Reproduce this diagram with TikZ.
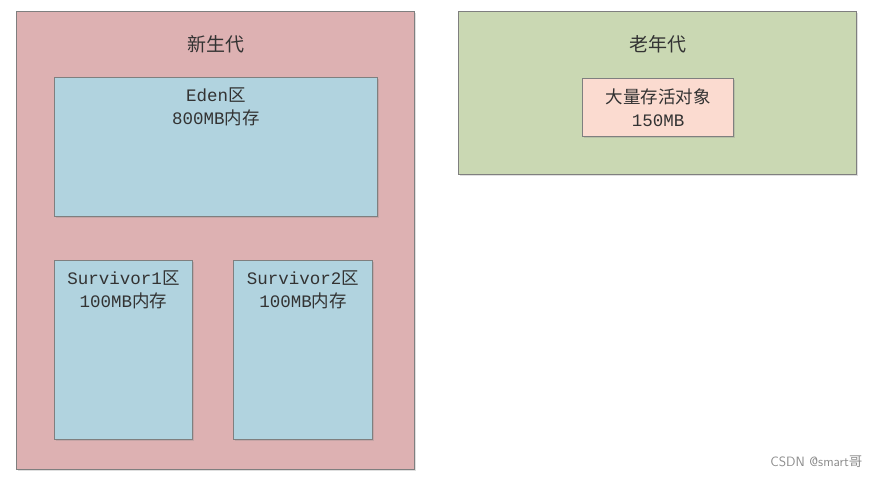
\documentclass[tikz,border=0pt]{standalone}
\usepackage{fontspec}
\setmonofont{Liberation Mono}
\newfontfamily\cjk{Noto Sans CJK SC}
\usepackage{tikz}
\usetikzlibrary{positioning, shadows}

\definecolor{younggen}{HTML}{DDB1B2}
\definecolor{edenblue}{HTML}{B1D3DF}
\definecolor{oldgen}{HTML}{CAD8B3}
\definecolor{objpink}{HTML}{FBDBD0}
\definecolor{edgegray}{HTML}{7F7F7F}

\newcommand{\zh}[1]{{\cjk #1}}

\begin{document}
\begin{tikzpicture}[
    x=1pt, y=-1pt,
    box/.style={rectangle, draw=edgegray, line width=1pt, inner sep=0pt, anchor=north west,
                drop shadow={opacity=0.25, shadow xshift=1.5pt, shadow yshift=-1.5pt}},
    region/.style={box, fill=younggen},
    space/.style={box, fill=edenblue},
    oldregion/.style={box, fill=oldgen},
    object/.style={box, fill=objpink},
    title/.style={font=\fontsize{19}{22}\selectfont\cjk, text=black!80},
    label/.style={align=center, font=\fontsize{17.5}{23}\selectfont\ttfamily, text=black!80, inner sep=0pt}
]
\useasboundingbox (0,0) rectangle (880,478);

% Young generation
\node[region, minimum width=398pt, minimum height=458pt] (young) at (16,11) {};
\node[title, below=21pt of young.north] (young_title) {新生代};

\node[space, minimum width=323pt, minimum height=139pt] (eden) at (54,77) {};
\node[label, below=11pt of eden.north] (eden_text) {Eden\zh{区}\\800MB\zh{内存}};

\node[space, minimum width=138pt, minimum height=179pt] (surv1) at (54,260) {};
\node[label, below=11pt of surv1.north] (surv1_text) {Survivor1\zh{区}\\100MB\zh{内存}};

\node[space, minimum width=139pt, minimum height=179pt] (surv2) at (233,260) {};
\node[label, below=11pt of surv2.north] (surv2_text) {Survivor2\zh{区}\\100MB\zh{内存}};

% Old generation
\node[oldregion, minimum width=398pt, minimum height=163pt] (old) at (458,11) {};
\node[title, below=21pt of old.north] (old_title) {老年代};

\node[object, minimum width=151pt, minimum height=58pt] (alive) at (582,78) {};
\node[label, below=11pt of alive.north] (alive_text) {\zh{大量存活对象}\\150MB};

% Watermark
\node[font=\fontsize{13.5}{16}\selectfont\sffamily, text=black!45, anchor=east] (mark) at (866,462) {CSDN @smart\zh{哥}};

\end{tikzpicture}
\end{document}
